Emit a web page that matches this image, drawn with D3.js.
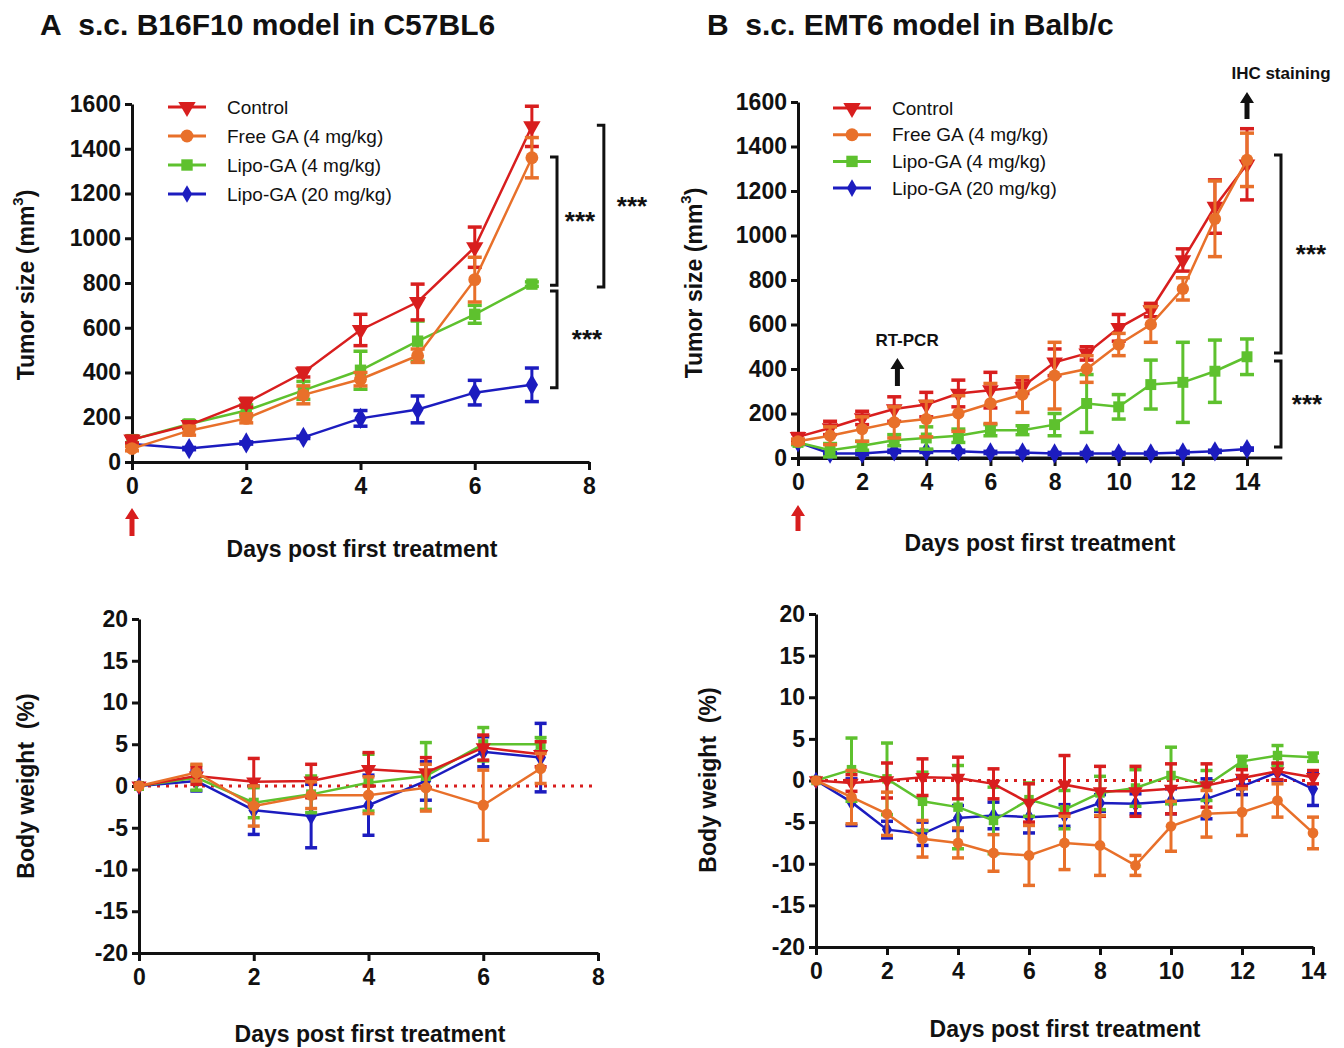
<!DOCTYPE html>
<meta charset="utf-8">
<script src="https://d3js.org/d3.v7.min.js"></script>
<style>
  body { margin: 0; background: #fff; }
  text { font-family: "Liberation Sans", Arial, sans-serif; fill: #111; }
</style>
<div id="chart"></div>
<script>

// ---- data ----
var seriesNames = ["Control", "Free GA (4 mg/kg)", "Lipo-GA (4 mg/kg)", "Lipo-GA (20 mg/kg)"];
var seriesColors = ["#d81e1e", "#e8702a", "#5ec12e", "#1c1cbf"];

var daysA = [0, 1, 2, 3, 4, 5, 6, 7];
var daysB = [0, 1, 2, 3, 4, 5, 6, 7, 8, 9, 10, 11, 12, 13, 14];

var tumorAMean = [
  [100, 165, 265, 400, 590, 715, 960, 1500],
  [60, 140, 195, 300, 370, 475, 815, 1360],
  [100, 170, 230, 320, 410, 540, 660, 795],
  [80, 60, 85, 110, 195, 235, 310, 345]
];
var tumorAErr = [
  [15, 15, 20, 20, 70, 80, 90, 90],
  [10, 20, 20, 40, 30, 30, 100, 90],
  [15, 15, 25, 40, 85, 90, 40, 10],
  [5, 5, 5, 5, 35, 60, 55, 75]
];
var weightAMean = [
  [0, 1.2, 0.5, 0.6, 2.0, 1.6, 4.6, 3.8],
  [0, 1.6, -2.4, -1.1, -1.1, -0.2, -2.3, 2.1],
  [0, 1.0, -2.0, -1.0, 0.4, 1.2, 5.0, 5.0],
  [0, 0.6, -2.9, -3.6, -2.3, 0.6, 4.1, 3.4]
];
var weightAErr = [
  [0, 1, 2.8, 2, 2, 1.8, 1.5, 1.5],
  [0, 1, 2.4, 1.6, 2.2, 2.8, 4.2, 1.8],
  [0, 1.5, 1.8, 2.2, 3.4, 4, 2, 0.8],
  [0, 1.2, 2.9, 3.8, 3.6, 2.3, 1.8, 4.1]
];

var tumorBMean = [
  [95, 135, 180, 220, 240, 290, 305, 320, 430, 470, 585, 665, 890, 1130, 1320],
  [75, 100, 130, 160, 175, 200, 245, 285, 370, 400, 510, 600, 760, 1075, 1340],
  [70, 35, 55, 80, 90, 100, 125, 125, 150, 245, 230, 330, 340, 390, 455],
  [70, 20, 20, 30, 30, 30, 25, 25, 20, 20, 20, 20, 25, 30, 40]
];
var tumorBErr = [
  [15, 30, 30, 55, 55, 60, 80, 30, 60, 30, 60, 30, 50, 120, 160],
  [10, 40, 55, 70, 80, 80, 90, 80, 150, 60, 50, 80, 50, 170, 120],
  [10, 30, 20, 25, 50, 30, 25, 20, 50, 130, 55, 110, 180, 140, 80],
  [5, 5, 5, 5, 5, 5, 5, 5, 5, 5, 5, 5, 5, 5, 5]
];
var weightBMean = [
  [0, -0.3, 0, 0.4, 0.3, -0.4, -2.7, -0.5, -1.3, -1.3, -1.0, -0.6, 0.3, 1.1, 0.4],
  [0, -2.0, -4.0, -7.0, -7.5, -8.7, -9.0, -7.5, -7.8, -10.2, -5.5, -4.0, -3.8, -2.4, -6.3],
  [0, 1.3, 0.2, -2.5, -3.2, -4.8, -2.3, -3.5, -1.5, -0.9, 0.6, -0.6, 2.3, 3.0, 2.8],
  [0, -2.6, -5.9, -6.4, -4.5, -4.2, -4.4, -4.2, -2.7, -2.8, -2.5, -2.2, -0.7, 1.0, -1.0]
];
var weightBErr = [
  [0, 1, 2.1, 2.2, 2.5, 1.8, 2.3, 3.5, 3, 3, 3, 2.6, 1, 1, 0.8],
  [0, 3.2, 2.6, 2.2, 1.8, 2.2, 3.6, 3.2, 3.6, 1.2, 3, 2.8, 2.8, 2, 1.9],
  [0, 3.8, 4.3, 3.5, 5, 4, 2, 2.3, 2, 2.2, 3.4, 1.8, 0.6, 1.2, 0.5],
  [0, 2.8, 1, 1.4, 1.5, 1.6, 1.9, 1.3, 1, 1.2, 1.5, 2.4, 1, 1, 2]
];

var tumorTicks = [0, 200, 400, 600, 800, 1000, 1200, 1400, 1600];
var weightTicks = [-20, -15, -10, -5, 0, 5, 10, 15, 20];
var dayTicksA = [0, 2, 4, 6, 8];
var dayTicksB = [0, 2, 4, 6, 8, 10, 12, 14];

// draw order: back to front
var drawOrder = [3, 2, 0, 1];

var svg = d3.select("#chart").append("svg")
  .attr("width", 1344)
  .attr("height", 1048);

// plain labels: no thousands comma, ascii minus
var plain = function(d) { return String(d); };

function symbolPath(i, size) {
  var types = [d3.symbolTriangle, d3.symbolCircle, d3.symbolSquare, d3.symbolDiamond];
  return d3.symbol().type(types[i]).size(size)();
}

function drawMarker(g, i, x, y, size) {
  g.append("path")
    .attr("d", symbolPath(i, size))
    .attr("transform", "translate(" + x + "," + y + ")" + (i == 0 ? " rotate(180)" : ""))
    .attr("fill", seriesColors[i]);
}

function drawPanel(p) {
  var g = svg.append("g");
  var x = p.x, y = p.y;

  // axes
  g.append("g")
    .attr("transform", "translate(" + x(0) + ",0)")
    .call(d3.axisLeft(y).tickValues(p.yTicks).tickFormat(plain).tickSize(7).tickSizeOuter(0).tickPadding(4));
  g.append("g")
    .attr("transform", "translate(0," + y(p.yTicks[0]) + ")")
    .call(d3.axisBottom(x).tickValues(p.xTicks).tickFormat(plain).tickSize(8).tickSizeOuter(0).tickPadding(8));
  if (p.xEnd) {
    g.append("line")
      .attr("x1", x(0)).attr("x2", x(p.xEnd))
      .attr("y1", y(p.yTicks[0])).attr("y2", y(p.yTicks[0]))
      .attr("stroke", "#111").attr("stroke-width", 3);
  }
  g.selectAll(".domain, .tick line").attr("stroke", "#111").attr("stroke-width", 3);
  g.selectAll(".tick text")
    .attr("fill", "#111")
    .style("font-size", "23px")
    .style("font-weight", "bold");

  // zero line for body weight
  if (p.zeroLine) {
    g.append("line")
      .attr("x1", x(0)).attr("x2", x(p.xTicks[p.xTicks.length - 1]))
      .attr("y1", y(0)).attr("y2", y(0))
      .attr("stroke", "#d81e1e").attr("stroke-width", 3)
      .attr("stroke-dasharray", "3,6");
  }

  // series
  drawOrder.forEach(function(i) {
    var col = seriesColors[i];
    var pts = p.days.map(function(d, k) { return {d: d, m: p.mean[i][k], e: p.err[i][k]}; });
    var sg = g.append("g");
    pts.forEach(function(pt) {
      if (pt.e <= 0) return;
      var cx = x(pt.d), y1 = y(pt.m + pt.e), y2 = y(pt.m - pt.e);
      sg.append("line").attr("x1", cx).attr("x2", cx).attr("y1", y1).attr("y2", y2)
        .attr("stroke", col).attr("stroke-width", 3);
      [y1, y2].forEach(function(yy) {
        sg.append("line").attr("x1", cx - p.cap).attr("x2", cx + p.cap).attr("y1", yy).attr("y2", yy)
          .attr("stroke", col).attr("stroke-width", 3.5);
      });
    });
    sg.append("path")
      .datum(pts)
      .attr("fill", "none")
      .attr("stroke", col)
      .attr("stroke-width", 2.5)
      .attr("d", d3.line().x(function(d) { return x(d.d); }).y(function(d) { return y(d.m); }));
    pts.forEach(function(pt) { drawMarker(sg, i, x(pt.d), y(pt.m), p.markerSize); });
  });

  // axis titles
  g.append("text")
    .attr("x", p.xLabel[0]).attr("y", p.xLabel[1])
    .attr("text-anchor", "middle")
    .attr("dominant-baseline", "central")
    .style("font-size", "23px").style("font-weight", "bold")
    .text("Days post first treatment");

  var yl = g.append("text")
    .attr("transform", "translate(" + p.yLabel[0] + "," + p.yLabel[1] + ") rotate(-90)")
    .attr("text-anchor", "middle")
    .attr("dominant-baseline", "central")
    .style("font-size", "23px").style("font-weight", "bold");
  if (p.tumor) {
    yl.append("tspan").text("Tumor size (mm");
    yl.append("tspan").attr("dy", -9).style("font-size", "15px").text("3");
    yl.append("tspan").attr("dy", 9).text(")");
  } else {
    yl.text("Body weight\u00a0\u00a0(%)");
  }
  return g;
}

function drawLegend(lx, ly, step) {
  var g = svg.append("g");
  seriesNames.forEach(function(name, i) {
    var yy = ly + i * step;
    g.append("line").attr("x1", lx).attr("x2", lx + 38).attr("y1", yy).attr("y2", yy)
      .attr("stroke", seriesColors[i]).attr("stroke-width", 3);
    drawMarker(g, i, lx + 19, yy, i == 3 ? 90 : 130);
    g.append("text").attr("x", lx + 59).attr("y", yy)
      .attr("dominant-baseline", "central")
      .style("font-size", "19px")
      .text(name);
  });
}

function drawBracket(g, x, y1, y2, label, lx) {
  g.append("path")
    .attr("d", "M" + (x - 7) + "," + y1 + "H" + x + "V" + y2 + "H" + (x - 7))
    .attr("fill", "none").attr("stroke", "#111").attr("stroke-width", 3);
  g.append("text")
    .attr("x", lx).attr("y", (y1 + y2) / 2 + 9)
    .attr("text-anchor", "middle")
    .style("font-size", "26px").style("font-weight", "bold")
    .text(label);
}

function drawArrow(x, yBase, yTip, col) {
  svg.append("path")
    .attr("d", "M" + (x - 2.5) + "," + yBase + "V" + (yTip + 11) + "H" + (x - 7) +
      "L" + x + "," + yTip + "L" + (x + 7) + "," + (yTip + 11) + "H" + (x + 2.5) + "V" + yBase + "Z")
    .attr("fill", col);
}

// ---- Panel A ----
var xA1 = d3.scaleLinear().domain([0, 8]).range([132, 589]);
var yA1 = d3.scaleLinear().domain([0, 1600]).range([462, 104]);
var gA1 = drawPanel({x: xA1, y: yA1, xTicks: dayTicksA, yTicks: tumorTicks, days: daysA,
  mean: tumorAMean, err: tumorAErr, cap: 7, markerSize: 130, tumor: true,
  xLabel: [362, 549], yLabel: [26, 285]});
drawLegend(168, 107, 29);
drawBracket(gA1, xA1(8.26), yA1(1505), yA1(782), "***", 632);
drawBracket(gA1, xA1(7.44), yA1(1363), yA1(790), "***", 580);
drawBracket(gA1, xA1(7.44), yA1(764), yA1(332), "***", 587);
drawArrow(xA1(0), 536, 508, "#d81e1e");

var xA2 = d3.scaleLinear().domain([0, 8]).range([139, 598]);
var yA2 = d3.scaleLinear().domain([-20, 20]).range([953, 619]);
drawPanel({x: xA2, y: yA2, xTicks: dayTicksA, yTicks: weightTicks, days: daysA,
  mean: weightAMean, err: weightAErr, cap: 6, markerSize: 100, zeroLine: true,
  xLabel: [370, 1034], yLabel: [26, 786]});

// ---- Panel B ----
var xB1 = d3.scaleLinear().domain([0, 14]).range([798, 1247]);
var yB1 = d3.scaleLinear().domain([0, 1600]).range([458, 102]);
var gB1 = drawPanel({x: xB1, y: yB1, xTicks: dayTicksB, yTicks: tumorTicks, days: daysB,
  mean: tumorBMean, err: tumorBErr, cap: 7, markerSize: 120, tumor: true, xEnd: 15.1,
  xLabel: [1040, 543], yLabel: [694, 283]});
drawLegend(833, 108, 26.7);
drawBracket(gB1, xB1(15.06), yB1(1362), yB1(472), "***", 1311);
drawBracket(gB1, xB1(15.06), yB1(436), yB1(49), "***", 1307);
drawArrow(xB1(0), 531, 505, "#d81e1e");
drawArrow(xB1(3.1), 386, 358, "#111");
drawArrow(xB1(14), 119, 92, "#111");
svg.append("text").attr("x", xB1(3.4)).attr("y", 340).attr("text-anchor", "middle")
  .attr("dominant-baseline", "central")
  .style("font-size", "17px").style("font-weight", "bold").text("RT-PCR");
svg.append("text").attr("x", 1281).attr("y", 73).attr("text-anchor", "middle")
  .attr("dominant-baseline", "central")
  .style("font-size", "17px").style("font-weight", "bold").text("IHC staining");

var xB2 = d3.scaleLinear().domain([0, 14]).range([816, 1313]);
var yB2 = d3.scaleLinear().domain([-20, 20]).range([947, 614]);
drawPanel({x: xB2, y: yB2, xTicks: dayTicksB, yTicks: weightTicks, days: daysB,
  mean: weightBMean, err: weightBErr, cap: 6, markerSize: 90, zeroLine: true,
  xLabel: [1065, 1029], yLabel: [708, 780]});

// ---- titles ----
svg.append("text").attr("x", 40).attr("y", 35)
  .style("font-size", "30px").style("font-weight", "bold")
  .text("A\u00a0\u00a0s.c. B16F10 model in C57BL6");
svg.append("text").attr("x", 707).attr("y", 35)
  .style("font-size", "30px").style("font-weight", "bold")
  .text("B\u00a0\u00a0s.c. EMT6 model in Balb/c");

</script>
